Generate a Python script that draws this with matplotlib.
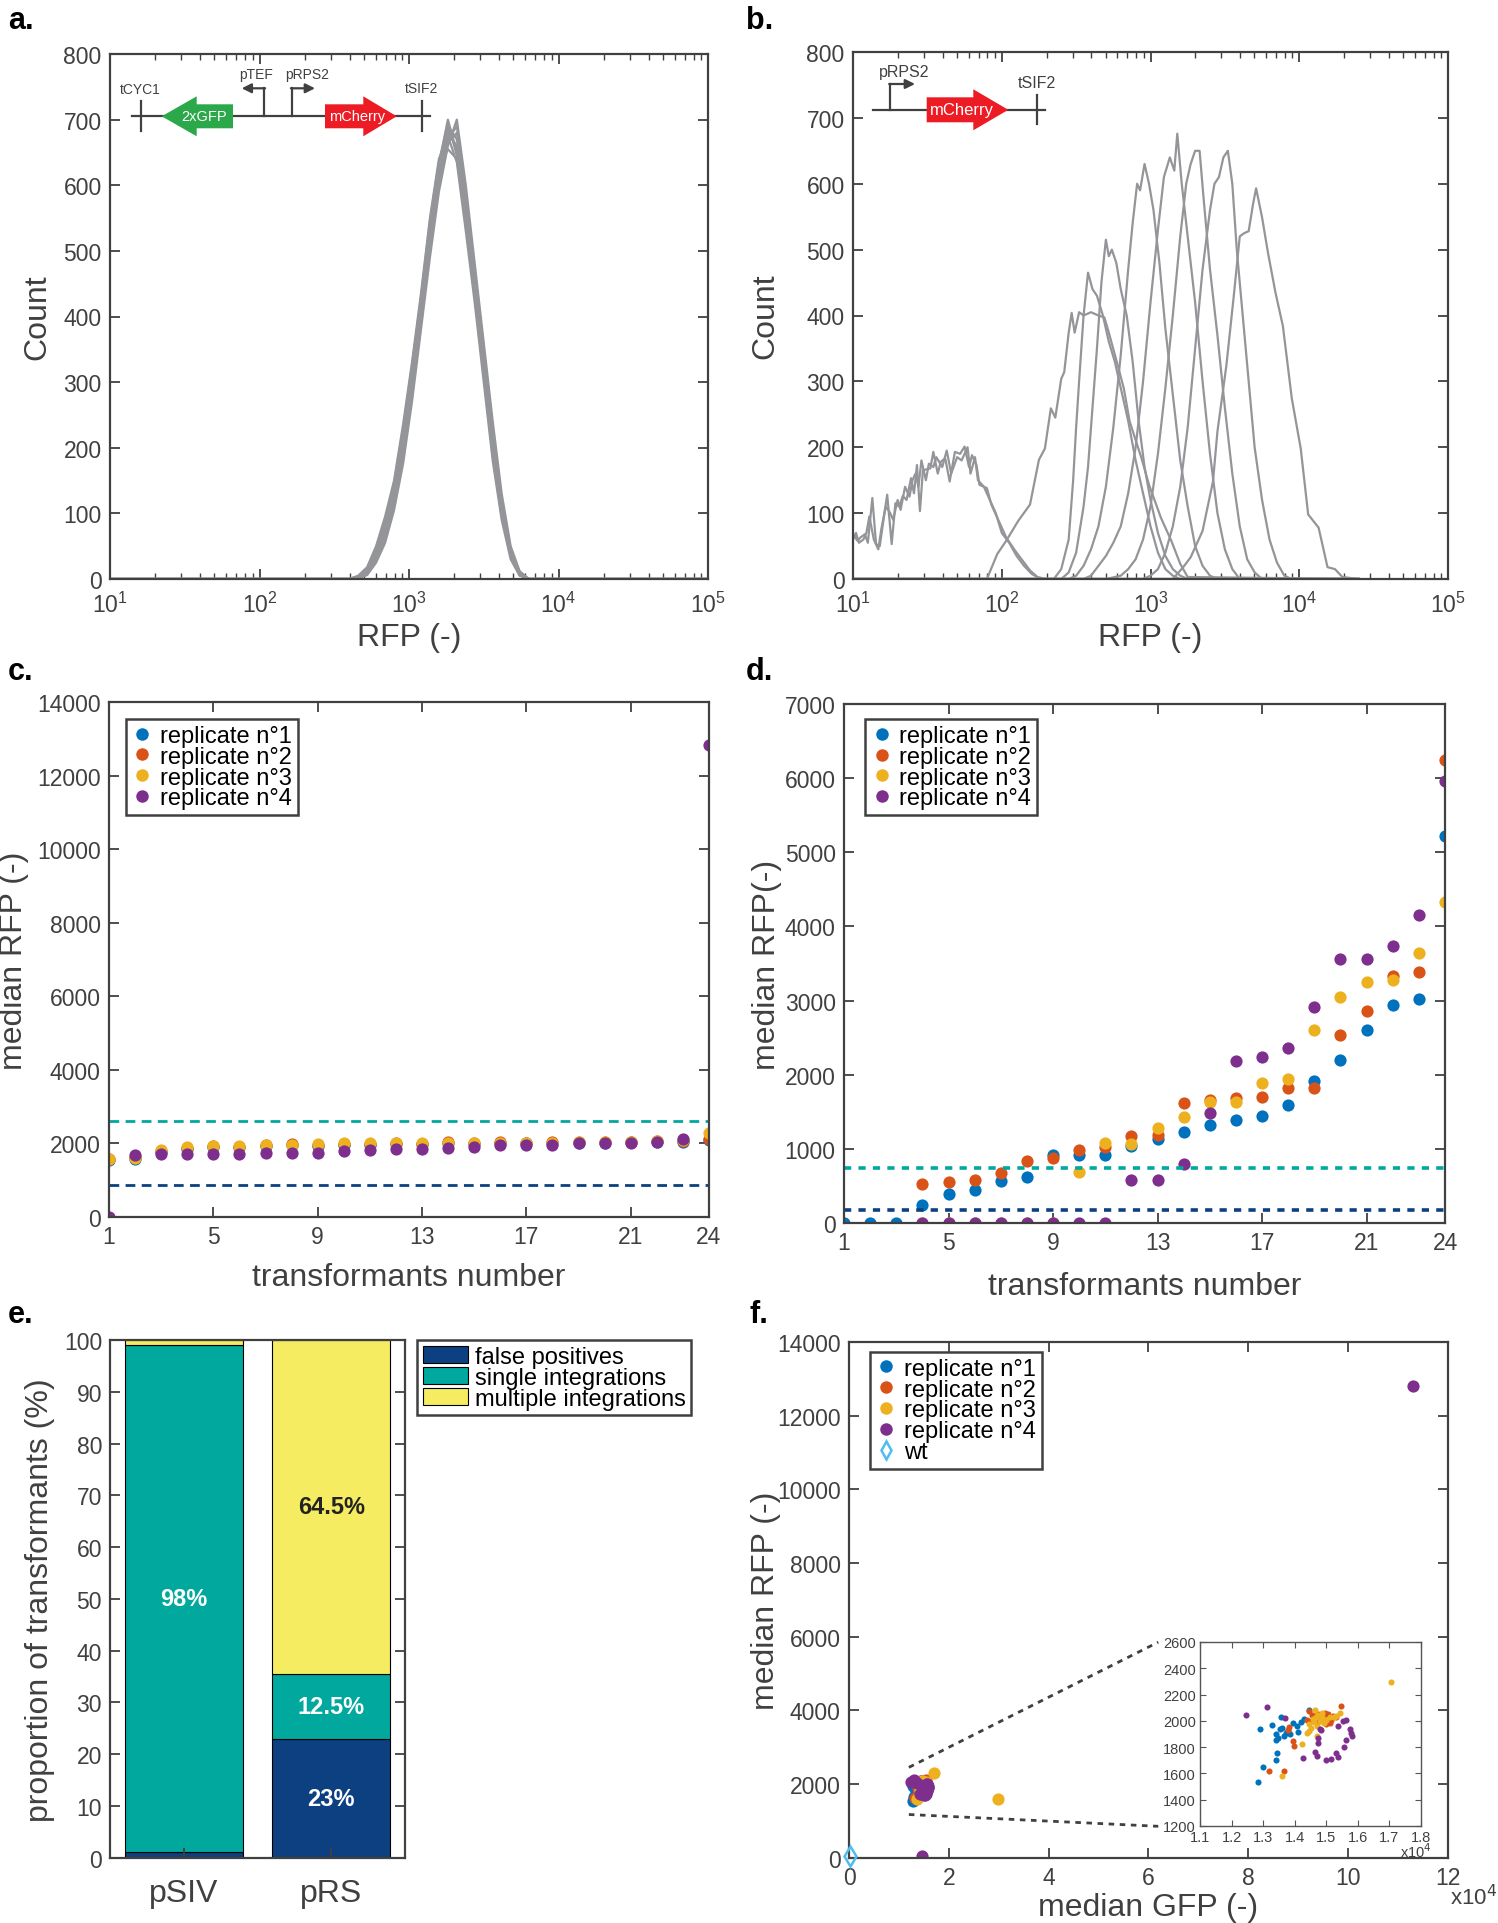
import numpy as np
import matplotlib
matplotlib.use('Agg')
import matplotlib.pyplot as plt
from matplotlib.patches import Polygon, Patch
from matplotlib.lines import Line2D
from matplotlib.ticker import LogLocator, NullFormatter

plt.rcParams['font.family'] = ['Liberation Sans', 'DejaVu Sans']

W, H = 1498, 1924
DARK = '#404040'
HIST_GRAY = '#939598'
REP_COLORS = ['#0072BD', '#D95319', '#EDB120', '#7E2F8E']
WT_COLOR = '#4DBEEE'
TEAL = '#00A89D'
NAVY = '#0C4080'
BAR_YELLOW = '#F5EC61'

# ---------------- data ----------------
# panel a: histograms, log10(RFP) bin grid shared by all curves
A_LOG_RFP = [1.0, 2.60, 2.66, 2.72, 2.78, 2.84, 2.90, 2.96, 3.02, 3.08, 3.14, 3.20,
             3.26, 3.32, 3.38, 3.44, 3.50, 3.56, 3.62, 3.68, 3.74, 3.80, 5.0]
A_COUNTS = [
    [0, 0, 2, 10, 35, 70, 125, 200, 300, 400, 520, 610, 680, 660, 560, 450, 330, 210, 110, 40, 8, 0, 0],
    [0, 0, 4, 15, 45, 85, 140, 220, 320, 420, 540, 630, 700, 650, 540, 430, 310, 190, 95, 35, 6, 0, 0],
    [0, 0, 1, 8, 30, 60, 110, 185, 280, 390, 500, 600, 670, 690, 580, 470, 350, 230, 120, 45, 10, 0, 0],
    [0, 0, 3, 12, 40, 80, 135, 215, 310, 410, 530, 625, 655, 640, 550, 440, 320, 200, 100, 38, 7, 0, 0],
    [0, 0, 2, 10, 32, 72, 120, 195, 295, 405, 515, 605, 690, 670, 570, 455, 335, 215, 115, 42, 9, 0, 0],
    [0, 0, 5, 18, 50, 95, 150, 235, 330, 435, 550, 640, 675, 635, 530, 420, 300, 180, 90, 30, 5, 0, 0],
    [0, 0, 1, 6, 25, 55, 105, 175, 270, 380, 490, 590, 660, 700, 600, 480, 360, 240, 130, 50, 12, 0, 0],
    [0, 0, 3, 14, 42, 82, 138, 210, 315, 415, 525, 615, 685, 655, 555, 445, 325, 205, 105, 40, 8, 0, 0],
    [0, 0, 2, 9, 33, 68, 118, 190, 290, 395, 505, 600, 665, 680, 575, 465, 345, 225, 118, 44, 10, 0, 0],
    [0, 0, 4, 16, 48, 90, 145, 228, 325, 428, 545, 635, 695, 645, 545, 435, 315, 195, 98, 36, 6, 0, 0],
]

# panel b: one (log10 RFP, count) pair of lists per transformant
B_LOG_RFP = [
    [1.00, 1.03, 1.05, 1.08, 1.10, 1.13, 1.155, 1.18, 1.21, 1.23, 1.26, 1.285, 1.31, 1.335, 1.36,
     1.39, 1.41, 1.43, 1.45, 1.47, 1.52, 1.54, 1.57, 1.59, 1.62, 1.65, 1.685, 1.72, 1.75, 1.78,
     1.80, 1.83, 1.85, 1.90, 1.93, 1.98, 2.03, 2.09, 2.14, 2.19, 2.24, 2.30, 4.40],
    [1.00, 1.02, 1.04, 1.07, 1.09, 1.11, 1.14, 1.17, 1.19, 1.22, 1.25, 1.27, 1.30, 1.32, 1.35,
     1.38, 1.40, 1.42, 1.44, 1.46, 1.49, 1.51, 1.54, 1.56, 1.60, 1.63, 1.66, 1.70, 1.73, 1.77,
     1.79, 1.82, 1.84, 1.88, 1.92, 1.96, 2.00, 2.05, 2.10, 2.15, 2.20, 2.26, 4.40],
    [1.00, 1.90, 1.97, 2.03, 2.11, 2.19, 2.25, 2.29, 2.33, 2.36, 2.40, 2.42, 2.45, 2.47, 2.49, 2.52,
     2.55, 2.60, 2.65, 2.69, 2.72, 2.78, 2.82, 2.86, 2.94, 2.99, 3.07, 3.14, 3.20, 3.25, 4.40],
    [1.00, 2.35, 2.40, 2.45, 2.48, 2.50, 2.52, 2.55, 2.58, 2.61, 2.64, 2.68, 2.72, 2.76, 2.80,
     2.85, 2.90, 2.95, 3.00, 3.05, 3.10, 3.15, 3.20, 4.40],
    [1.00, 2.40, 2.45, 2.50, 2.55, 2.58, 2.61, 2.64, 2.67, 2.70, 2.72, 2.74, 2.77, 2.80, 2.84,
     2.88, 2.92, 2.96, 3.00, 3.05, 3.10, 3.15, 3.20, 3.25, 4.40],
    [1.00, 2.45, 2.50, 2.55, 2.60, 2.65, 2.70, 2.75, 2.80, 2.85, 2.88, 2.91, 2.93, 2.96, 2.99,
     3.02, 3.06, 3.10, 3.15, 3.20, 3.25, 3.30, 3.35, 3.40, 3.45, 4.40],
    [1.00, 2.55, 2.60, 2.65, 2.70, 2.75, 2.80, 2.85, 2.90, 2.95, 3.00, 3.05, 3.09, 3.13, 3.16,
     3.18, 3.21, 3.25, 3.30, 3.35, 3.40, 3.45, 3.50, 3.55, 3.60, 4.40],
    [1.00, 2.70, 2.80, 2.85, 2.90, 2.95, 3.00, 3.05, 3.10, 3.15, 3.20, 3.24, 3.27, 3.30, 3.33,
     3.36, 3.40, 3.45, 3.50, 3.55, 3.60, 3.65, 3.70, 3.75, 4.40],
    [1.00, 2.95, 3.00, 3.05, 3.10, 3.15, 3.20, 3.25, 3.30, 3.35, 3.40, 3.43, 3.46, 3.49, 3.52,
     3.55, 3.58, 3.62, 3.66, 3.70, 3.75, 3.80, 3.85, 3.90, 3.95, 4.40],
    [1.00, 3.15, 3.22, 3.27, 3.35, 3.42, 3.45, 3.51, 3.56, 3.60, 3.63, 3.66, 3.69, 3.71, 3.75,
     3.79, 3.84, 3.89, 3.95, 4.01, 4.06, 4.13, 4.19, 4.24, 4.29, 4.40],
]
B_COUNTS = [
    [68, 58, 63, 68, 55, 123, 53, 50, 98, 128, 53, 115, 110, 126, 120,
     153, 130, 173, 103, 165, 168, 193, 160, 178, 183, 148, 193, 190, 201, 170,
     188, 173, 143, 138, 113, 88, 63, 43, 28, 13, 3, 0, 0],
    [60, 70, 55, 60, 70, 95, 60, 45, 75, 110, 100, 90, 120, 105, 140,
     125, 150, 160, 140, 180, 150, 175, 170, 185, 170, 195, 160, 185, 180, 200,
     160, 185, 150, 140, 120, 100, 70, 55, 35, 20, 8, 0, 0],
    [0, 0, 38, 58, 88, 113, 181, 198, 259, 245, 304, 314, 374, 404, 374, 405,
     400, 405, 400, 397, 374, 324, 290, 239, 183, 143, 93, 58, 23, 3, 0],
    [0, 0, 15, 60, 150, 230, 300, 400, 465, 440, 430, 400, 360, 330, 290,
     240, 180, 130, 80, 40, 15, 5, 0, 0],
    [0, 0, 10, 40, 110, 170, 260, 350, 450, 515, 490, 500, 480, 440, 400,
     330, 240, 170, 120, 70, 35, 15, 5, 0, 0],
    [0, 0, 5, 20, 45, 80, 140, 230, 340, 470, 540, 600, 590, 630, 600,
     560, 480, 380, 280, 180, 110, 50, 20, 5, 0, 0],
    [0, 0, 5, 20, 35, 55, 80, 130, 200, 300, 420, 530, 610, 640, 620,
     676, 600, 520, 420, 300, 190, 100, 45, 15, 0, 0],
    [0, 0, 5, 15, 30, 60, 110, 190, 290, 400, 520, 600, 630, 650, 650,
     570, 470, 370, 260, 160, 80, 30, 10, 0, 0],
    [0, 0, 5, 15, 40, 80, 140, 230, 350, 470, 560, 600, 610, 640, 650,
     600, 500, 400, 300, 200, 120, 60, 25, 5, 0, 0],
    [0, 0, 18, 33, 73, 148, 224, 324, 430, 520, 525, 528, 570, 593, 549,
     495, 435, 384, 274, 198, 98, 78, 18, 15, 3, 0],
]

# panels c and d: median RFP of 24 transformants, four replicates
TRANSFORMANTS = list(range(1, 25))
REP_LABELS = ['replicate n°1', 'replicate n°2', 'replicate n°3', 'replicate n°4']
C_REP1 = [1560, 1580, 1780, 1860, 1900, 1890, 1930, 1950, 1930, 1970, 1960, 1990,
          1980, 2000, 1995, 2000, 2000, 2005, 2020, 2020, 2030, 2040, 2050, 2090]
C_REP2 = [1590, 1620, 1800, 1880, 1930, 1900, 1960, 1985, 1950, 1990, 1985, 2020,
          1995, 2035, 2010, 2030, 2025, 2030, 2050, 2040, 2045, 2055, 2060, 2110]
C_REP3 = [1580, 1600, 1830, 1905, 1925, 1925, 1950, 1970, 1975, 2000, 2000, 2000,
          2005, 2015, 2020, 2020, 2020, 2010, 2035, 2035, 2040, 2060, 2080, 2275]
C_REP4 = [0, 1680, 1700, 1710, 1700, 1700, 1740, 1740, 1745, 1790, 1830, 1860,
          1860, 1880, 1905, 1945, 1955, 1970, 2000, 2000, 2015, 2040, 2110, 12840]
C_SINGLE_LIMIT = 2610
C_FALSE_LIMIT = 870

D_REP1 = [0, 0, 0, 246, 387, 442, 569, 615, 911, 920, 920, 1034,
          1134, 1230, 1317, 1390, 1444, 1590, 1913, 2196, 2597, 2939, 3025, 5217]
D_REP2 = [None, None, None, 524, 556, 579, 679, 838, 875, 980, 1021, 1171,
          1185, 1617, 1663, 1686, 1704, 1822, 1822, 2529, 2857, 3335, 3380, 6242]
D_REP3 = [None, None, None, 0, 0, 0, 0, 0, 0, 683, 1080, 1070,
          1285, 1431, 1626, 1626, 1891, 1936, 2597, 3052, 3253, 3276, 3645, 4328]
D_REP4 = [None, None, None, 0, 0, 0, 0, 0, 0, 0, 0, 579,
          579, 797, 1490, 2187, 2242, 2355, 2911, 3554, 3563, 3731, 4155, 5964]
D_SINGLE_LIMIT = 738
D_FALSE_LIMIT = 169

# panel e: outcome of transformations (%)
E_GROUPS = ['pSIV', 'pRS']
E_FALSE = [1, 23]
E_SINGLE = [98, 12.5]
E_MULTI = [1, 64.5]
E_CLASSES = ['false positives', 'single integrations', 'multiple integrations']

# panel f: median GFP (x10^4) vs median RFP
F_GFP1 = [1.284, 1.301, 1.341, 1.345, 1.289, 1.329, 1.341, 1.341, 1.357, 1.359, 1.372, 1.384,
          1.394, 1.408, 1.411, 1.430, 1.445, 1.347, 1.353, 1.365, 1.470, 1.490, 1.420, 1.378]
F_RFP1 = [1536, 1652, 1703, 1755, 1936, 1967, 1897, 1858, 2033, 1948, 1910, 1897,
          1980, 1961, 1918, 2013, 2082, 1871, 1936, 1884, 2010, 2040, 1990, 1925]
F_GFP2 = [1.320, 1.366, 1.380, 1.381, 1.396, 1.398, 1.445, 1.467, 1.506, 1.512, 1.500, 1.548,
          1.451, 1.475, 1.490, 1.460, 1.520, 1.485, 1.440, 1.530, 1.495, 1.470, 1.455, 1.515]
F_RFP2 = [1618, 1618, 1929, 1950, 1847, 1809, 2077, 2038, 2051, 1987, 1974, 2115,
          2000, 2051, 2030, 2020, 2040, 2000, 2010, 2030, 2060, 1995, 2045, 2010]
F_GFP3 = [1.359, 1.424, 1.439, 1.445, 1.451, 1.463, 1.467, 1.471, 1.481, 1.487, 1.493, 1.512,
          1.524, 1.532, 1.542, 1.704, 1.445, 1.457, 1.475, 1.500, 1.460, 1.485, 2.980, 1.470]
F_RFP3 = [1584, 1827, 1910, 1923, 1949, 2082, 2031, 1883, 2000, 2026, 1987, 2031,
          2026, 2038, 2056, 2293, 1974, 2013, 2045, 2010, 1995, 2060, 1603, 1960]
F_GFP4 = [1.245, 1.311, 1.370, 1.484, 1.475, 1.475, 1.426, 1.463, 1.471, 1.500, 1.515, 1.530,
          1.536, 1.536, 1.554, 1.563, 1.576, 1.579, 1.581, 1.563, 1.557, 1.479, 11.30, 1.470]
F_RFP4 = [2046, 2103, 2018, 1931, 1872, 1833, 1717, 1763, 1730, 1700, 1710, 1755,
          1725, 1961, 2000, 2005, 1935, 1910, 1884, 1858, 1801, 1936, 12808, 50]
F_WT_GFP = [0.03]
F_WT_RFP = [30]
# zoom window shown in the inset and where its guide lines point
F_ZOOM_FROM = [(1.2, 2450), (1.2, 1170)]
F_ZOOM_TO = [(6.2, 5850), (6.2, 850)]


# ---------------- helpers ----------------
def box(left, top, right, bottom):
    return [left / W, 1 - bottom / H, (right - left) / W, (bottom - top) / H]


def style_axes(ax, labelsize=16.5, lw=1.6):
    for s in ax.spines.values():
        s.set_color(DARK)
        s.set_linewidth(lw)
    ax.tick_params(which='major', direction='in', top=True, right=True, length=7,
                   width=1.3, color=DARK, labelcolor=DARK, labelsize=labelsize, pad=6)
    ax.tick_params(which='minor', direction='in', top=True, right=True, length=4,
                   width=1.0, color=DARK)


def log_axis(ax):
    ax.set_xscale('log')
    ax.set_xlim(10, 1e5)
    ax.xaxis.set_major_locator(LogLocator(base=10, numticks=10))
    ax.xaxis.set_minor_locator(LogLocator(base=10, subs=np.arange(2, 10), numticks=50))
    ax.xaxis.set_minor_formatter(NullFormatter())


def rep_legend(ax, anchor, with_wt=False):
    handles = [Line2D([], [], ls='none', marker='o', ms=9, color=c, mec='none')
               for c in REP_COLORS]
    labels = list(REP_LABELS)
    if with_wt:
        handles.append(Line2D([], [], ls='none', marker='d', ms=9, mfc='none',
                              mec=WT_COLOR, mew=1.8))
        labels.append('wt')
    leg = ax.legend(handles, labels, loc='upper left', bbox_to_anchor=anchor,
                    borderaxespad=0, fontsize=17, labelspacing=-0.05,
                    handletextpad=0.3, handlelength=0.9, borderpad=0.25,
                    fancybox=False, framealpha=1)
    leg.get_frame().set_edgecolor(DARK)
    leg.get_frame().set_linewidth(1.8)
    return leg


def gene_arrow(ax, x_tail, x_base, x_tip, yc, body_h, head_h, color, label, x_text, size):
    pts = [(x_tail, yc - body_h / 2), (x_base, yc - body_h / 2), (x_base, yc - head_h / 2),
           (x_tip, yc), (x_base, yc + head_h / 2), (x_base, yc + body_h / 2),
           (x_tail, yc + body_h / 2)]
    ax.add_patch(Polygon(pts, closed=True, fc=color, ec='none', zorder=3))
    ax.text(x_text, yc, label, color='white', fontsize=size, ha='center', va='center',
            zorder=4)


def promoter(ax, x, y_base, y_top, x_end, label, x_label, y_label, size):
    ax.plot([x, x], [y_base, y_top], color=DARK, lw=1.6, zorder=3)
    ax.annotate('', xy=(x_end, y_top), xytext=(x - 0.8 * np.sign(x_end - x), y_top),
                arrowprops=dict(arrowstyle='-|>', color=DARK, lw=1.6,
                                mutation_scale=14, shrinkA=0, shrinkB=0), zorder=3)
    ax.text(x_label, y_label, label, color=DARK, fontsize=size, ha='center', va='center')


def terminator(ax, x, y0, y1, label, y_label, size):
    ax.plot([x, x], [y0, y1], color=DARK, lw=1.6, zorder=3)
    ax.text(x, y_label, label, color=DARK, fontsize=size, ha='center', va='center')


fig = plt.figure(figsize=(W / 100, H / 100), dpi=100)

# ---------------- a ----------------
ax_a = fig.add_axes(box(110, 55, 708, 580))
for counts in A_COUNTS:
    ax_a.plot(10 ** np.array(A_LOG_RFP), counts, color=HIST_GRAY, lw=1.6)
log_axis(ax_a)
ax_a.set_ylim(0, 800)
ax_a.set_yticks(range(0, 801, 100))
style_axes(ax_a)
ax_a.tick_params(axis='x', which='major', pad=9)
ax_a.set_xlabel('RFP (-)', fontsize=23, color=DARK, labelpad=4)
ax_a.set_ylabel('Count', fontsize=23, color=DARK, labelpad=8)

# ---------------- b ----------------
ax_b = fig.add_axes(box(853, 53, 1448, 580))
for xs, counts in zip(B_LOG_RFP, B_COUNTS):
    ax_b.plot(10 ** np.array(xs), counts, color=HIST_GRAY, lw=1.6)
log_axis(ax_b)
ax_b.set_ylim(0, 800)
ax_b.set_yticks(range(0, 801, 100))
style_axes(ax_b)
ax_b.tick_params(axis='x', which='major', pad=9)
ax_b.set_xlabel('RFP (-)', fontsize=23, color=DARK, labelpad=4)
ax_b.set_ylabel('Count', fontsize=23, color=DARK, labelpad=19)

# ---------------- c ----------------
ax_c = fig.add_axes(box(109, 703, 709, 1218))
for vals, col in zip([C_REP1, C_REP2, C_REP3, C_REP4], REP_COLORS):
    ax_c.plot(TRANSFORMANTS, vals, 'o', ms=8.8, color=col, mec='none')
ax_c.axhline(C_SINGLE_LIMIT, color=TEAL, lw=2, ls=(0, (3.5, 2.3)))
ax_c.axhline(C_FALSE_LIMIT, color=NAVY, lw=2, ls=(0, (3.5, 2.3)))
ax_c.set_xlim(1, 24)
ax_c.set_ylim(0, 14000)
ax_c.set_xticks([1, 5, 9, 13, 17, 21, 24])
ax_c.set_yticks(range(0, 14001, 2000))
style_axes(ax_c)
ax_c.set_xlabel('transformants number', fontsize=23, color=DARK, labelpad=10)
ax_c.set_ylabel('median RFP (-)', fontsize=23, color=DARK, labelpad=6)
rep_legend(ax_c, (0.028, 0.967))

# ---------------- d ----------------
ax_d = fig.add_axes(box(844, 705, 1445, 1224))
for vals, col in zip([D_REP1, D_REP2, D_REP3, D_REP4], REP_COLORS):
    v = np.array([np.nan if x is None else x for x in vals], dtype=float)
    ax_d.plot(TRANSFORMANTS, v, 'o', ms=8.8, color=col, mec='none')
ax_d.axhline(D_SINGLE_LIMIT, color=TEAL, lw=2.6, ls=(0, (2, 2)))
ax_d.axhline(D_FALSE_LIMIT, color=NAVY, lw=2.6, ls=(0, (2, 2)))
ax_d.set_xlim(1, 24)
ax_d.set_ylim(0, 7000)
ax_d.set_xticks([1, 5, 9, 13, 17, 21, 24])
ax_d.set_yticks(range(0, 7001, 1000))
style_axes(ax_d)
ax_d.set_xlabel('transformants number', fontsize=23, color=DARK, labelpad=12)
ax_d.set_ylabel('median RFP(-)', fontsize=23, color=DARK, labelpad=2)
rep_legend(ax_d, (0.035, 0.971))

# ---------------- e ----------------
ax_e = fig.add_axes(box(110.4, 1341, 404.8, 1858.6))
pos = np.arange(1, len(E_GROUPS) + 1)
bottom = np.zeros(len(E_GROUPS))
seg_colors = [NAVY, TEAL, BAR_YELLOW]
for vals, col in zip([E_FALSE, E_SINGLE, E_MULTI], seg_colors):
    ax_e.bar(pos, vals, 0.8, bottom=bottom, color=col, edgecolor='black', linewidth=0.8)
    for i, v in enumerate(vals):
        if v >= 5:
            ax_e.text(pos[i], bottom[i] + v / 2, f'{v:g}%', ha='center', va='center',
                      fontsize=17, fontweight='bold',
                      color='#222222' if col == BAR_YELLOW else 'white')
    bottom += np.array(vals)
ax_e.set_xlim(0.5, 2.5)
ax_e.set_ylim(0, 100)
ax_e.set_yticks(range(0, 101, 10))
ax_e.set_xticks(pos)
ax_e.set_xticklabels(E_GROUPS)
style_axes(ax_e)
ax_e.tick_params(axis='x', labelsize=23, top=False, pad=15)
ax_e.set_ylabel('proportion of transformants (%)', fontsize=23, color=DARK, labelpad=6)
leg_e = ax_e.legend([Patch(fc=c, ec='black', lw=0.8) for c in seg_colors], E_CLASSES,
                    loc='upper left', bbox_to_anchor=(1.041, 1.0), borderaxespad=0,
                    fontsize=17, labelspacing=-0.05, handletextpad=0.3, handlelength=1.9,
                    handleheight=0.75, borderpad=0.25, fancybox=False, framealpha=1)
leg_e.get_frame().set_edgecolor(DARK)
leg_e.get_frame().set_linewidth(1.8)

# ---------------- f ----------------
ax_f = fig.add_axes(box(849, 1343, 1447.6, 1858.6))
F_SETS = [(F_GFP1, F_RFP1), (F_GFP2, F_RFP2), (F_GFP3, F_RFP3), (F_GFP4, F_RFP4)]
for (gx, ry), col in zip(F_SETS, REP_COLORS):
    ax_f.plot(gx, ry, 'o', ms=8.8, color=col, mec='none')
ax_f.plot(F_WT_GFP, F_WT_RFP, 'd', ms=10, mfc='none', mec=WT_COLOR, mew=1.8,
          clip_on=False, zorder=4)
for p0, p1 in zip(F_ZOOM_FROM, F_ZOOM_TO):
    ax_f.plot([p0[0], p1[0]], [p0[1], p1[1]], color=DARK, lw=2, ls=(0, (2, 2)))
ax_f.set_xlim(0, 12)
ax_f.set_ylim(0, 14000)
ax_f.set_xticks(range(0, 13, 2))
ax_f.set_yticks(range(0, 14001, 2000))
style_axes(ax_f)
ax_f.set_xlabel('median GFP (-)', fontsize=23, color=DARK, labelpad=2)
ax_f.set_ylabel('median RFP (-)', fontsize=23, color=DARK, labelpad=-3)
rep_legend(ax_f, (0.035, 0.981), with_wt=True)

ax_in = fig.add_axes(box(1200, 1643, 1421, 1827))
for (gx, ry), col in zip(F_SETS, REP_COLORS):
    ax_in.plot(gx, ry, 'o', ms=4.4, color=col, mec='none')
ax_in.set_xlim(1.1, 1.8)
ax_in.set_ylim(1200, 2600)
ax_in.set_xticks(np.round(np.arange(1.1, 1.81, 0.1), 1))
ax_in.set_yticks(range(1200, 2601, 200))
for s in ax_in.spines.values():
    s.set_color('#555555')
    s.set_linewidth(1.0)
ax_in.tick_params(direction='in', top=True, right=True, length=4, width=0.8,
                  color='#555555', labelcolor=DARK, labelsize=10.5, pad=3)

# ---------------- overlay: panel letters, constructs, exponents ----------------
ov = fig.add_axes([0, 0, 1, 1])
ov.set_xlim(0, W)
ov.set_ylim(H, 0)
ov.axis('off')
ov.patch.set_alpha(0)

for letter, (lx, ly) in zip('abcdef', [(8, 6), (746, 6), (8, 657), (746, 657), (8, 1300), (749, 1300)]):
    ov.text(lx, ly, letter + '.', fontsize=22, fontweight='bold', ha='left', va='top')

# construct in a
ov.plot([131.7, 430], [117.3, 117.3], color=DARK, lw=1.6, zorder=2)
terminator(ov, 140.7, 102, 132, 'tCYC1', 90, 10)
gene_arrow(ov, 233, 196.7, 161.7, 117.3, 24, 40, '#2BA84A', '2xGFP', 204, 10.5)
promoter(ov, 264.3, 117.3, 89.3, 241.7, 'pTEF', 256, 75.5, 10)
promoter(ov, 291.7, 117.3, 89.3, 315, 'pRPS2', 307.5, 75.5, 10)
gene_arrow(ov, 325, 363.3, 396.7, 117.3, 24, 40, '#ED1C24', 'mCherry', 357, 10.5)
terminator(ov, 421.7, 102, 132, 'tSIF2', 89, 10)

# construct in b
ov.plot([872.7, 1045], [110.7, 110.7], color=DARK, lw=1.6, zorder=2)
promoter(ov, 890, 110.7, 85, 915, 'pRPS2', 904, 72.5, 11.5)
gene_arrow(ov, 926.7, 973.3, 1008.3, 110.8, 25, 41, '#ED1C24', 'mCherry', 962, 12)
terminator(ov, 1036.7, 96, 125, 'tSIF2', 83.3, 11.5)

ov.text(1432, 1852, 'x10$^4$', fontsize=10.5, color=DARK, ha='right', va='center')
ov.text(1450, 1898, 'x10$^4$', fontsize=16, color=DARK, ha='left', va='center')

fig.savefig('out.png', dpi=100)
